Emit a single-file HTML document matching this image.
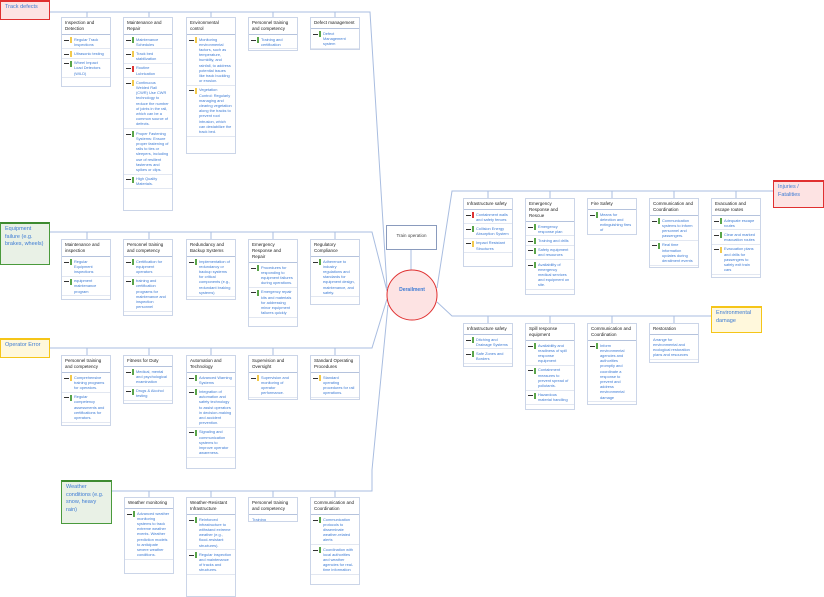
<!DOCTYPE html>
<html><head><meta charset="utf-8"><style>
body{margin:0;width:824px;height:589px;overflow:hidden;background:#fff;position:relative;font-family:"Liberation Sans",sans-serif}
svg{position:absolute;left:0;top:0}
.c{position:absolute;width:50px;background:#fff;border:1px solid #cbd5e8;overflow:hidden;box-sizing:border-box}
.h{font-size:4.5px;line-height:6px;color:#222;padding:2px 3px;border-bottom:1px solid #b5c3dd}
.i{font-size:3.9px;line-height:5.2px;color:#3d7bd4;padding:1.5px 3px 1.5px 12px;border-bottom:1px solid #e2e7f1;position:relative}
.i.n{padding-left:3px}
.i:not(.n)::before{content:"";position:absolute;left:2px;top:4.5px;width:5px;height:1px;background:#333}
.i:not(.n)::after{content:"";position:absolute;left:7.5px;top:2px;width:2px;height:6px;background:#5aa54a}
.i.y::after{background:#f2c94c!important}
.i.r::after{background:#d33!important}
.r0{position:absolute;font-size:5.5px;line-height:7.5px;color:#3d7bd4;padding:2px 4px;box-sizing:border-box}
.red{background:#fde3e3;border:1px solid #e03030;border-top:2px solid #e03030}
.grn{background:#e9f1e6;border:1px solid #4a9a3c;border-top:2px solid #3d8a30}
.yel{background:#fff8dc;border:1px solid #f5c518;border-top:2px solid #f5c518}
</style></head><body>
<svg width="824" height="589" fill="none" stroke="#a9bde0" stroke-width="1">
<path d="M50,12 H370 L387,288"/>
<path d="M50,232 H372 L387,291"/>
<path d="M50,348 H372 L387,299"/>
<path d="M112,491 H372 V470 L388,305"/>
<path d="M437,288 L452,191 H773"/>
<path d="M437,302 L452,316 H711"/>
<path d="M411,250 V270"/>
<path d="M87,12V17M149,12V17M211,12V17M273,12V17M335,12V17"/>
<path d="M87,232V239M149,232V239M211,232V239M273,232V239M335,232V239"/>
<path d="M87,348V355M149,348V355M211,348V355M273,348V355M335,348V355"/>
<path d="M149,491V497M211,491V497M273,491V497M335,491V497"/>
<path d="M488,191V198M550,191V198M612,191V198M674,191V198M736,191V198"/>
<path d="M488,316V323M550,316V323M612,316V323M674,316V323"/>
<circle cx="412" cy="295" r="25" fill="#fde3e3" stroke="#e03030"/>
</svg>
<div class="r0" style="left:388px;top:285px;width:48px;text-align:center;font-weight:bold;font-size:5px">Derailment</div>
<div class="r0" style="left:386px;top:225px;width:51px;height:25px;border:1px solid #8a9bbd;background:#fff;color:#444;font-size:4.5px;text-align:center;line-height:20px;padding:0">Train operation</div>

<div class="r0 red" style="left:0;top:0;width:50px;height:20px">Track defects</div>
<div class="r0 grn" style="left:0;top:222px;width:50px;height:43px">Equipment failure (e.g. brakes, wheels)</div>
<div class="r0 yel" style="left:0;top:338px;width:50px;height:20px">Operator Error</div>
<div class="r0 grn" style="left:61px;top:480px;width:51px;height:44px">Weather conditions (e.g. snow, heavy rain)</div>
<div class="r0 red" style="left:773px;top:180px;width:51px;height:28px">Injuries / Fatalities</div>
<div class="r0 yel" style="left:711px;top:306px;width:51px;height:27px">Environmental damage</div>

<!-- Track defects -->
<div class="c" style="left:61px;top:17px;height:70px"><div class="h">Inspection and Detection</div><div class="i y">Regular Track Inspections</div><div class="i y">Ultrasonic testing</div><div class="i">Wheel Impact Load Detectors (WILD)</div></div>
<div class="c" style="left:123px;top:17px;height:194px"><div class="h">Maintenance and Repair</div><div class="i">Maintenance Schedules</div><div class="i y">Track bed stabilization</div><div class="i r">Routine Lubrication</div><div class="i y">Continuous Welded Rail (CWR) Use CWR technology to reduce the number of joints in the rail, which can be a common source of defects.</div><div class="i">Proper Fastening Systems: Ensure proper fastening of rails to ties or sleepers, including use of resilient fasteners and spikes or clips.</div><div class="i">High Quality Materials.</div></div>
<div class="c" style="left:186px;top:17px;height:137px"><div class="h">Environmental control</div><div class="i y">Monitoring environmental factors, such as temperature, humidity, and rainfall, to address potential issues like track buckling or erosion.</div><div class="i y">Vegetation Control: Regularly managing and clearing vegetation along the tracks to prevent root intrusion, which can destabilize the track bed.</div></div>
<div class="c" style="left:248px;top:17px;height:34px"><div class="h">Personnel training and competency</div><div class="i">Training and certification</div></div>
<div class="c" style="left:310px;top:17px;height:33px"><div class="h">Defect management</div><div class="i">Defect Management system</div></div>

<!-- Equipment -->
<div class="c" style="left:61px;top:239px;height:61px"><div class="h">Maintenance and inspection</div><div class="i">Regular Equipment inspections</div><div class="i">equipment maintenance program</div></div>
<div class="c" style="left:123px;top:239px;height:77px"><div class="h">Personnel training and competency</div><div class="i">Certification for equipment operators</div><div class="i">training and certification programs for maintenance and inspection personnel</div></div>
<div class="c" style="left:186px;top:239px;height:61px"><div class="h">Redundancy and Backup Systems</div><div class="i">Implementation of redundancy or backup systems for critical components (e.g., redundant braking systems)</div></div>
<div class="c" style="left:248px;top:239px;height:88px"><div class="h">Emergency Response and Repair</div><div class="i">Procedures for responding to equipment failures during operations.</div><div class="i">Emergency repair kits and materials for addressing minor equipment failures quickly</div></div>
<div class="c" style="left:310px;top:239px;height:66px"><div class="h">Regulatory Compliance</div><div class="i">Adherence to industry regulations and standards for equipment design, maintenance, and safety.</div></div>

<!-- Operator -->
<div class="c" style="left:61px;top:355px;height:71px"><div class="h">Personnel training and competency</div><div class="i y">Comprehensive training programs for operators.</div><div class="i">Regular competency assessments and certifications for operators.</div></div>
<div class="c" style="left:123px;top:355px;height:49px"><div class="h">Fitness for Duty</div><div class="i">Medical, mental and psychological examination</div><div class="i">Drugs &amp; Alcohol testing</div></div>
<div class="c" style="left:186px;top:355px;height:114px"><div class="h">Automation and Technology</div><div class="i">Advanced Warning Systems</div><div class="i">Integration of automation and safety technology to assist operators in decision-making and accident prevention.</div><div class="i">Signaling and communication systems to improve operator awareness.</div></div>
<div class="c" style="left:248px;top:355px;height:45px"><div class="h">Supervision and Oversight</div><div class="i y">Supervision and monitoring of operator performance.</div></div>
<div class="c" style="left:310px;top:355px;height:45px"><div class="h">Standard Operating Procedures</div><div class="i y">Standard operating procedures for rail operations.</div></div>

<!-- Weather -->
<div class="c" style="left:124px;top:497px;height:77px"><div class="h">Weather monitoring</div><div class="i">Advanced weather monitoring systems to track extreme weather events. Weather prediction models to anticipate severe weather conditions.</div></div>
<div class="c" style="left:186px;top:497px;height:100px"><div class="h">Weather-Resistant Infrastructure</div><div class="i">Reinforced infrastructure to withstand extreme weather (e.g., flood-resistant structures).</div><div class="i">Regular inspection and maintenance of tracks and structures.</div></div>
<div class="c" style="left:248px;top:497px;height:25px"><div class="h">Personnel training and competency</div><div class="i n">Training</div></div>
<div class="c" style="left:310px;top:497px;height:88px"><div class="h">Communication and Coordination</div><div class="i">Communication protocols to disseminate weather-related alerts</div><div class="i">Coordination with local authorities and weather agencies for real-time information</div></div>

<!-- Injuries -->
<div class="c" style="left:463px;top:198px;height:69px"><div class="h">Infrastructure safety</div><div class="i r">Containment walls and safety fences</div><div class="i">Collision Energy Absorption System</div><div class="i y">Impact Resistant Structures</div></div>
<div class="c" style="left:525px;top:198px;height:97px"><div class="h">Emergency Response and Rescue</div><div class="i">Emergency response plan</div><div class="i">Training and drills</div><div class="i">Safety equipment and resources</div><div class="i">Availability of emergency medical services and equipment on site.</div></div>
<div class="c" style="left:587px;top:198px;height:37px"><div class="h">Fire Safety</div><div class="i">Means for detection and extinguishing fires of</div></div>
<div class="c" style="left:649px;top:198px;height:70px"><div class="h">Communication and Coordination</div><div class="i">Communication systems to inform personnel and passengers.</div><div class="i">Real time information updates during derailment events</div></div>
<div class="c" style="left:711px;top:198px;height:80px"><div class="h">Evacuation and escape routes</div><div class="i">Adequate escape routes</div><div class="i">Clear and marked evacuation routes</div><div class="i y">Evacuation plans and drills for passengers to safely exit train cars</div></div>

<!-- Environmental -->
<div class="c" style="left:463px;top:323px;height:44px"><div class="h">Infrastructure safety</div><div class="i">Ditching and Drainage Systems</div><div class="i">Safe Zones and Borders</div></div>
<div class="c" style="left:525px;top:323px;height:87px"><div class="h">Spill response equipment</div><div class="i">Availability and readiness of spill response equipment</div><div class="i">Containment measures to prevent spread of pollutants.</div><div class="i">Hazardous material handling</div></div>
<div class="c" style="left:587px;top:323px;height:82px"><div class="h">Communication and Coordination</div><div class="i">Inform environmental agencies and authorities promptly and coordinate a response to prevent and address environmental damage</div></div>
<div class="c" style="left:649px;top:323px;height:40px"><div class="h">Restoration</div><div class="i n">Arrange for environmental and ecological restoration plans and resources</div></div>
</body></html>
